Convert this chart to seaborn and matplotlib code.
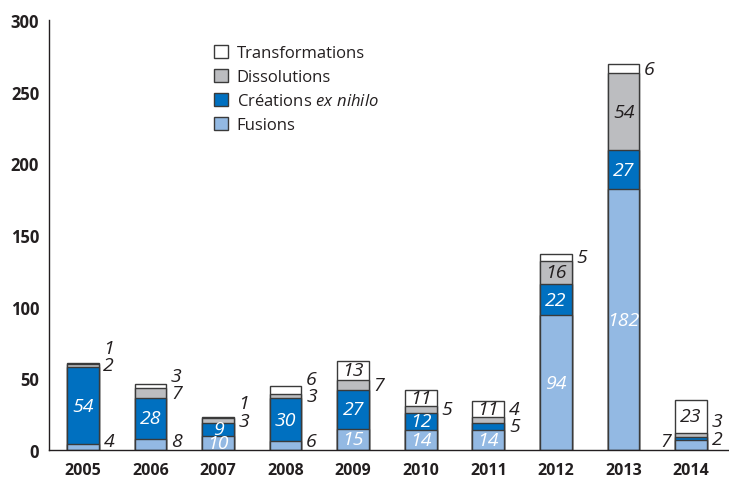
import matplotlib
matplotlib.use("Agg")
import matplotlib.pyplot as plt
from matplotlib.patches import Patch
import seaborn as sns
import pandas as pd

years = ["2005", "2006", "2007", "2008", "2009", "2010", "2011", "2012", "2013", "2014"]
fusions = [4, 8, 10, 6, 15, 14, 14, 94, 182, 7]
creations = [54, 28, 9, 30, 27, 12, 5, 22, 27, 2]
dissolutions = [2, 7, 3, 3, 7, 5, 4, 16, 54, 3]
transformations = [1, 3, 1, 6, 13, 11, 11, 5, 6, 23]
series_names = ["Fusions", "Créations ex nihilo", "Dissolutions", "Transformations"]
left_labels = [("2014", "Fusions")]

sns.set_theme(style="white")
plt.rcParams["font.family"] = ["Open Sans", "DejaVu Sans"]
plt.rcParams["mathtext.fontset"] = "custom"
plt.rcParams["mathtext.it"] = "Open Sans:italic"
plt.rcParams["mathtext.rm"] = "Open Sans"

colors = ["#93b9e3", "#0070c0", "#bcbdc0", "#ffffff"]
inside_colors = ["white", "white", "#231f20", "#231f20"]
edge = "#3a3a3a"
dark = "#231f20"

values = [fusions, creations, dissolutions, transformations]
df = pd.DataFrame({"year": years})
cum = [0] * len(years)
bottoms = []
for name, vals in zip(series_names, values):
    bottoms.append(list(cum))
    cum = [c + v for c, v in zip(cum, vals)]
    df[name] = cum

fig = plt.figure(figsize=(7.29, 4.81), dpi=100)
ax = fig.add_axes([49 / 729, 30 / 481, 1 - 49 / 729, 430 / 481])

bw = 0.47
for k in range(3, -1, -1):
    sns.barplot(data=df, x="year", y=series_names[k], color=colors[k], saturation=1,
                edgecolor=edge, linewidth=1.0, width=bw, errorbar=None, ax=ax, order=years)

# labels
fs = 14
gap = 12
for i, yr in enumerate(years):
    prev = None
    for k, name in enumerate(series_names):
        v = values[k][i]
        b = bottoms[k][i]
        c = b + v / 2
        if v >= 9:
            ax.text(i, c, str(v), ha="center", va="center", fontsize=fs, style="italic",
                    color=inside_colors[k])
        elif (yr, name) in left_labels:
            ax.text(i - bw / 2 - 0.06, max(c, 6.5), str(v), ha="right", va="center",
                    fontsize=fs, style="italic", color=dark)
        else:
            y = max(c, 6.5)
            if prev is not None:
                y = max(y, prev + gap)
            prev = y
            ax.text(i + bw / 2 + 0.07, y, str(v), ha="left", va="center",
                    fontsize=fs, style="italic", color=dark)

ax.set_xlim(-0.5, 9.56)
ax.set_ylim(0, 300)
ax.set_yticks([0, 50, 100, 150, 200, 250, 300])
ax.set_xlabel("")
ax.set_ylabel("")
for s in ["top", "right"]:
    ax.spines[s].set_visible(False)
for s in ["left", "bottom"]:
    ax.spines[s].set_color(dark)
    ax.spines[s].set_linewidth(1.0)
ax.tick_params(axis="y", direction="in", length=11, width=1, color=dark, pad=7,
               labelsize=12, labelcolor=dark)
ax.tick_params(axis="x", length=0, pad=9, labelsize=11.5, labelcolor=dark)
for lab in ax.get_xticklabels() + ax.get_yticklabels():
    lab.set_fontweight("bold")

handles = [Patch(facecolor=colors[k], edgecolor=edge, linewidth=1) for k in [3, 2, 1, 0]]
labels = ["Transformations", "Dissolutions", "Créations $\\it{ex\\ nihilo}$", "Fusions"]
leg = fig.legend(handles, labels, loc="upper left", bbox_to_anchor=(206 / 729, 1 - 38 / 481),
                 frameon=False, fontsize=12, handlelength=0.8, handleheight=0.8,
                 handletextpad=0.55, labelspacing=0.46, borderpad=0)
for t in leg.get_texts():
    t.set_color(dark)

fig.savefig("out.png", dpi=100)
